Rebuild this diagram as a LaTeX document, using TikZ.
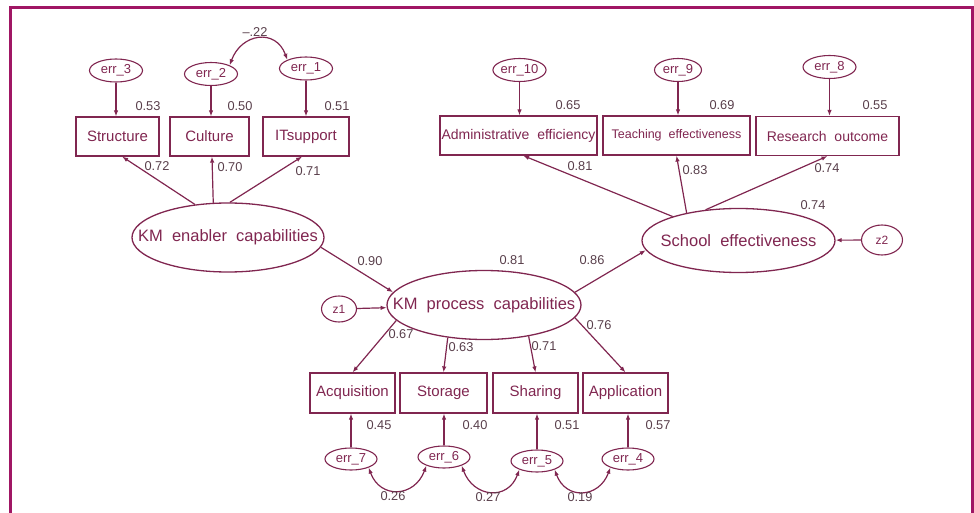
\documentclass[tikz,border=0pt]{standalone}
\usepackage{fontspec}
\setmainfont{Liberation Sans}
\usepackage{tikz}
\usetikzlibrary{arrows.meta, shapes.geometric}
\definecolor{semRed}{RGB}{128, 38, 80}
\definecolor{frameRed}{RGB}{160, 22, 100}
\definecolor{numGray}{RGB}{88, 62, 74}

\begin{document}
\begin{tikzpicture}[x=1pt, y=1pt,
        obs/.style={rectangle, draw=semRed, line width=1.2pt, text=semRed, minimum height=39pt,
            inner xsep=1pt, font=\fontsize{15}{17}\selectfont},
        lat/.style={ellipse, draw=semRed, line width=1.3pt, text=semRed, inner sep=0pt,
            font=\fontsize{16.5}{19}\selectfont},
        err/.style={ellipse, draw=semRed, line width=1.1pt, text=semRed, inner sep=0pt,
            minimum width=53pt, minimum height=23pt, font=\fontsize{13}{15}\selectfont},
        num/.style={text=numGray, inner sep=0pt, font=\fontsize{12.8}{14}\selectfont},
        arr/.style={-{Latex[length=6pt, width=4.5pt]}, draw=semRed, line width=1.2pt},
        cov/.style={{Latex[length=6pt, width=4.5pt]}-{Latex[length=6pt, width=4.5pt]}, draw=semRed, line width=1.2pt}
    ]
    \useasboundingbox (0,0) rectangle (974,-513);
    \draw[frameRed, line width=3pt] (10,-525) -- (10,-8) -- (972,-8) -- (972,-525);

    % KM enabler capabilities
    \node[lat, minimum width=192pt, minimum height=69pt] (enabler) at (228,-237.5) {\makebox[0pt]{KM~~enabler~~capabilities}};
    \node[obs, minimum width=83pt] (structure) at (117.5,-136.5) {Structure};
    \node[obs, minimum width=79pt] (culture) at (209.5,-136.5) {Culture};
    \node[obs, minimum width=86pt] (itsupport) at (306,-136.5) {ITsupport};
    \node[err] (err3) at (116,-70.5) {err\_3};
    \node[err] (err2) at (211,-74) {err\_2};
    \node[err] (err1) at (306,-68.5) {err\_1};
    \draw[arr] (err3.south) -- (err3.south |- structure.north);
    \draw[arr] (err2.south) -- (err2.south |- culture.north);
    \draw[arr] (err1.south) -- (err1.south |- itsupport.north);
    \draw[arr] (enabler.135) -- (structure.-77);
    \draw[arr] (enabler.113) -- (culture.-83);
    \draw[arr] (enabler.87) -- (itsupport.-101);
    \draw[cov] (err2.25) to[out=70, in=110, looseness=1.5] (err1.155);
    \node[num] (l53) at (148,-106) {0.53};
    \node[num] (l50) at (240,-106) {0.50};
    \node[num] (l51) at (337,-106) {0.51};
    \node[num] (l72) at (157,-166) {0.72};
    \node[num] (l70) at (230,-167) {0.70};
    \node[num] (l71) at (308,-171) {0.71};
    \node[num] (l22) at (255,-32) {--.22};

    % School effectiveness
    \node[lat, minimum width=193pt, minimum height=64pt] (school) at (738.5,-240.5) {\makebox[0pt]{School~~effectiveness}};
    \node[obs, minimum width=157pt, font=\fontsize{14}{16}\selectfont] (admin) at (518.5,-135.5) {Administrative~~efficiency};
    \node[obs, minimum width=147pt, font=\fontsize{12.5}{15}\selectfont] (teaching) at (676.5,-135.5) {Teaching~~effectiveness};
    \node[obs, minimum width=143pt, font=\fontsize{14}{16}\selectfont] (research) at (827.5,-136) {Research~~outcome};
    \node[err] (err10) at (519.5,-70) {err\_10};
    \node[err, minimum width=47pt] (err9) at (678,-70) {err\_9};
    \node[err] (err8) at (829.5,-67) {err\_8};
    \node[err, minimum width=41pt, minimum height=30pt, font=\fontsize{12}{14}\selectfont] (z2) at (882,-240) {z2};
    \draw[arr] (err10.south) -- (err10.south |- admin.north);
    \draw[arr] (err9.south) -- (err9.south |- teaching.north);
    \draw[arr] (err8.south) -- (err8.south |- research.north);
    \draw[arr] (school.160) -- (admin.-77);
    \draw[arr] (school.152) -- (teaching.south);
    \draw[arr] (school.137) -- (research.south);
    \draw[arr] (z2) -- (school);
    \node[num] (l65) at (568,-105) {0.65};
    \node[num] (l69) at (722,-105) {0.69};
    \node[num] (l55) at (875,-105) {0.55};
    \node[num] (l81a) at (580,-166) {0.81};
    \node[num] (l83) at (695,-170) {0.83};
    \node[num] (l74a) at (827,-168) {0.74};
    \node[num] (l74b) at (813,-205) {0.74};

    % KM process capabilities
    \node[lat, minimum width=194pt, minimum height=69pt] (process) at (484,-305) {\makebox[0pt]{KM~~process~~capabilities}};
    \node[err, minimum width=35pt, minimum height=26pt, font=\fontsize{12}{14}\selectfont] (z1) at (339,-309) {z1};
    \draw[arr] (enabler.-6) -- (process.172);
    \draw[arr] (z1) -- (process);
    \draw[arr] (process.8) -- (school.186);
    \node[num] (l90) at (370,-261) {0.90};
    \node[num] (l81b) at (512,-260) {0.81};
    \node[num] (l86) at (592,-260) {0.86};

    % process indicators
    \node[obs, minimum width=85pt, minimum height=40pt] (acq) at (352.5,-393) {Acquisition};
    \node[obs, minimum width=87pt, minimum height=40pt] (storage) at (443.5,-393) {Storage};
    \node[obs, minimum width=85pt, minimum height=40pt] (sharing) at (535.5,-393) {Sharing};
    \node[obs, minimum width=85pt, minimum height=40pt] (application) at (625.5,-393) {Application};
    \node[err, minimum width=52pt, minimum height=22pt] (err7) at (351,-459) {err\_7};
    \node[err, minimum width=52pt, minimum height=22pt] (err6) at (444,-457) {err\_6};
    \node[err, minimum width=52pt, minimum height=22pt] (err5) at (537,-461) {err\_5};
    \node[err, minimum width=52pt, minimum height=22pt] (err4) at (628,-459) {err\_4};
    \draw[arr] (process.190) -- (acq.north);
    \draw[arr] (process.222) -- (storage.north);
    \draw[arr] (process.325) -- (sharing.north);
    \draw[arr] (process.352) -- (application.north);
    \draw[arr] (err7.north) -- (err7.north |- acq.south);
    \draw[arr] (err6.north) -- (err6.north |- storage.south);
    \draw[arr] (err5.north) -- (err5.north |- sharing.south);
    \draw[arr] (err4.north) -- (err4.north |- application.south);
    \draw[cov] (err7.-26) to[out=-70, in=-110, looseness=1.5] (err6.206);
    \draw[cov] (err6.-26) to[out=-70, in=-110, looseness=1.5] (err5.206);
    \draw[cov] (err5.-26) to[out=-70, in=-110, looseness=1.5] (err4.206);
    \node[num] (l67) at (401,-334) {0.67};
    \node[num] (l63) at (461,-347) {0.63};
    \node[num] (l71b) at (544,-346) {0.71};
    \node[num] (l76) at (599,-325) {0.76};
    \node[num] (l45) at (379,-425) {0.45};
    \node[num] (l40) at (475,-425) {0.40};
    \node[num] (l51b) at (567,-425) {0.51};
    \node[num] (l57) at (658,-425) {0.57};
    \node[num] (l26) at (393,-496) {0.26};
    \node[num] (l27) at (488,-497) {0.27};
    \node[num] (l19) at (580,-497) {0.19};
\end{tikzpicture}
\end{document}
